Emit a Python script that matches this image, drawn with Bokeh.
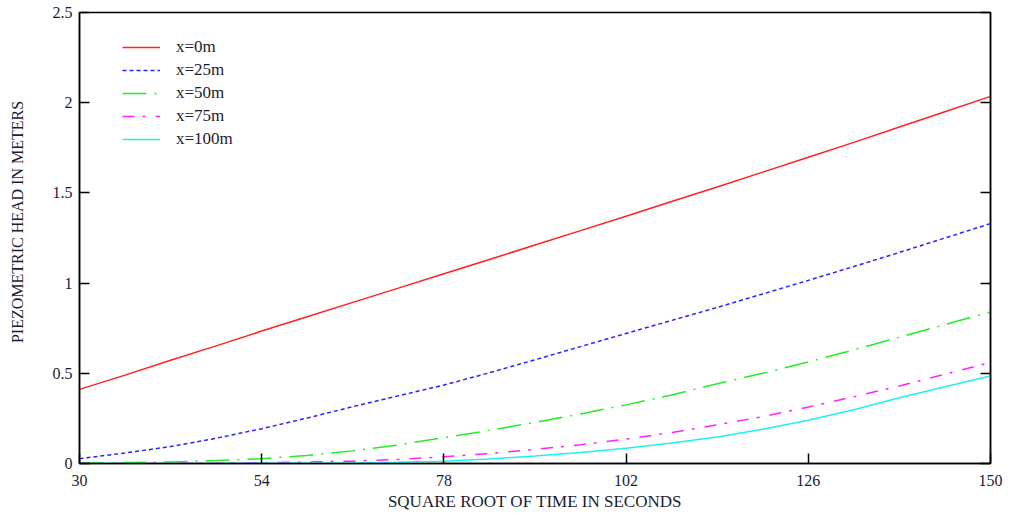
from bokeh.plotting import figure
from bokeh.models import LinearAxis, Legend, LegendItem, FixedTicker, Range1d
from bokeh.embed import file_html
from bokeh.resources import INLINE

# square root of time (s^0.5)
sqrt_t = [30, 36, 42, 48, 54, 60, 66, 72, 78, 84, 90, 96, 102, 108, 114, 120, 126, 132, 138, 144, 150]

# piezometric head (m) at each distance from the boundary
head_x0 = [0.411, 0.49, 0.572, 0.652, 0.734, 0.813, 0.893, 0.972, 1.052, 1.131, 1.211,
           1.291, 1.371, 1.452, 1.533, 1.615, 1.698, 1.78, 1.865, 1.95, 2.035]
head_x25 = [0.027, 0.058, 0.094, 0.14, 0.193, 0.252, 0.315, 0.375, 0.435, 0.503, 0.575,
            0.648, 0.721, 0.793, 0.865, 0.94, 1.015, 1.092, 1.17, 1.25, 1.33]
head_x50 = [0.003, 0.005, 0.009, 0.016, 0.027, 0.045, 0.07, 0.103, 0.143, 0.184, 0.228,
            0.275, 0.325, 0.38, 0.442, 0.5, 0.563, 0.63, 0.70, 0.77, 0.84]
head_x75 = [0.0, 0.0, 0.001, 0.002, 0.004, 0.008, 0.013, 0.023, 0.037, 0.055, 0.078,
            0.104, 0.135, 0.172, 0.214, 0.26, 0.313, 0.37, 0.43, 0.495, 0.56]
head_x100 = [0.0, 0.0, 0.0, 0.0, 0.001, 0.002, 0.003, 0.007, 0.013, 0.025, 0.042,
             0.061, 0.084, 0.113, 0.147, 0.19, 0.24, 0.298, 0.365, 0.425, 0.485]

series_labels = ["x=0m", "x=25m", "x=50m", "x=75m", "x=100m"]
x_ticks = [30, 54, 78, 102, 126, 150]
y_ticks = [0, 0.5, 1, 1.5, 2, 2.5]

SERIF = "Liberation Serif"
TEXT_COLOR = "#1c1c30"

p = figure(width=1011, height=515, output_backend="svg", toolbar_location=None,
           x_range=Range1d(30, 150), y_range=Range1d(0, 2.5),
           min_border_left=79, min_border_right=21, min_border_top=12, min_border_bottom=52)
p.background_fill_color = "white"
p.border_fill_color = "white"
p.grid.visible = False
p.outline_line_color = "black"
p.outline_line_width = 1.5

styles = [
    (head_x0, "#ff2020", "solid"),
    (head_x25, "#2424ff", "4 3"),
    (head_x50, "#22ee22", "24 8 2 8"),
    (head_x75, "#ff22ff", "12 8 3 10"),
    (head_x100, "#22eeee", "solid"),
]
renderers = []
for ys, color, dash in styles:
    r = p.line(sqrt_t, ys, line_color=color, line_width=1.5, line_dash=dash)
    renderers.append(r)

def frame_axis(ax):
    ax.axis_line_color = "black"
    ax.axis_line_width = 1.5
    ax.major_tick_line_color = "black"
    ax.major_tick_line_width = 1.5
    ax.major_tick_in = 10
    ax.major_tick_out = 0
    ax.minor_tick_line_color = None

xa = p.xaxis[0]
xa.ticker = FixedTicker(ticks=x_ticks)
ya = p.yaxis[0]
ya.ticker = FixedTicker(ticks=y_ticks)
for ax in (xa, ya):
    frame_axis(ax)
    ax.major_label_text_font = SERIF
    ax.major_label_text_font_size = "16px"
    ax.major_label_text_color = TEXT_COLOR
    ax.axis_label_text_font = SERIF
    ax.axis_label_text_font_style = "normal"
    ax.axis_label_text_color = TEXT_COLOR

xa.axis_label = "SQUARE ROOT OF TIME IN SECONDS"
xa.axis_label_text_font_size = "17px"
xa.major_label_standoff = 11
xa.axis_label_standoff = 3
# leading no-break spaces nudge the rotated title towards the top
ya.axis_label = "\u00a0" * 8 + "PIEZOMETRIC HEAD IN METERS"
ya.axis_label_text_font_size = "16px"
ya.major_label_standoff = 7
ya.axis_label_standoff = 24

# unlabelled right-hand axis carrying inward ticks only
ra = LinearAxis(ticker=FixedTicker(ticks=y_ticks))
frame_axis(ra)
ra.major_label_text_color = None
ra.major_label_text_font_size = "2px"
ra.major_label_standoff = 0
p.add_layout(ra, "right")

legend = Legend(
    items=[LegendItem(label=lab, renderers=[r]) for lab, r in zip(series_labels, renderers)],
    location=(43, 314),
    orientation="vertical",
    padding=0, margin=0, spacing=3,
    glyph_width=38, glyph_height=20, label_height=20,
    label_standoff=16,
    label_text_font=SERIF, label_text_font_size="17px", label_text_color=TEXT_COLOR,
    border_line_color=None, background_fill_alpha=0,
)
p.add_layout(legend, "center")

open("out.html", "w").write(file_html(p, INLINE))
